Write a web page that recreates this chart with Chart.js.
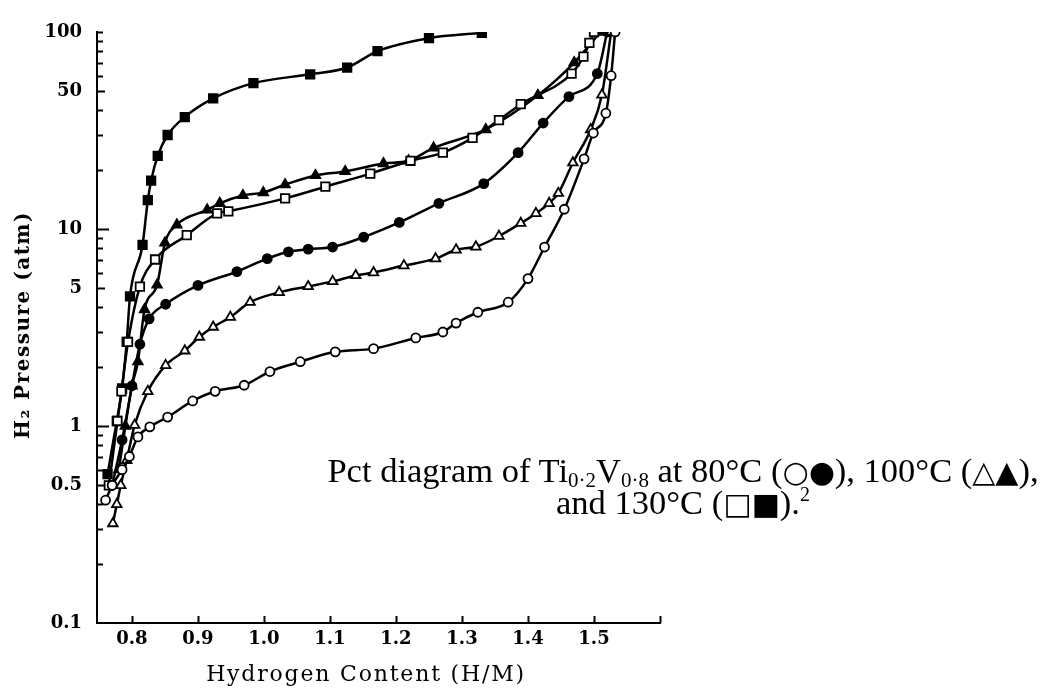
<!DOCTYPE html>
<html>
<head>
<meta charset="utf-8">
<script src="https://cdn.jsdelivr.net/npm/chart.js@4.4.0/dist/chart.umd.min.js"></script>
<style>
  html, body { margin: 0; padding: 0; background: #fff; }
  #wrap { position: relative; width: 1051px; height: 693px; }
  #caption {
    position: absolute; left: 318px; top: 455px; width: 730px;
    font-family: "Liberation Serif", serif; font-size: 34.5px; line-height: 30px;
    color: #000; text-align: center; white-space: nowrap;
  }
  #caption sub { font-size: 21px; vertical-align: -5px; line-height: 0; }
  #caption sup { font-size: 20px; vertical-align: 13px; line-height: 0; }
  #caption .sym { font-family: "DejaVu Sans", sans-serif; font-size: 30px; }
</style>
</head>
<body>
<div id="wrap">
  <canvas id="chart" width="1051" height="693"></canvas>
  <div id="caption">Pct diagram of Ti<sub>0·2</sub>V<sub>0·8</sub> at 80°C (<span class="sym">○●</span>), 100°C (<span class="sym">△▲</span>),<br>and 130°C (<span class="sym">□■</span>).<sup>2</sup></div>
</div>
<script>
// 80°C  (open circles = desorption, filled = absorption)
const h80Open   = [0.760, 0.770, 0.785, 0.796, 0.809, 0.827, 0.854, 0.892, 0.926, 0.970, 1.009, 1.055, 1.108, 1.166, 1.230, 1.271, 1.291, 1.324, 1.370, 1.400, 1.425, 1.455, 1.485, 1.499, 1.518, 1.526, 1.532];
const p80Open   = [0.42, 0.50, 0.60, 0.70, 0.88, 0.99, 1.11, 1.34, 1.50, 1.61, 1.89, 2.12, 2.38, 2.47, 2.80, 3.00, 3.33, 3.78, 4.25, 5.6, 8.1, 12.6, 22.7, 30.7, 38.7, 60, 100];
const h80Filled = [0.770, 0.785, 0.800, 0.812, 0.826, 0.851, 0.900, 0.959, 1.005, 1.037, 1.067, 1.104, 1.151, 1.205, 1.265, 1.333, 1.385, 1.423, 1.462, 1.505, 1.520];
const p80Filled = [0.50, 0.85, 1.6, 2.6, 3.5, 4.15, 5.17, 6.08, 7.07, 7.66, 7.9, 8.1, 9.1, 10.8, 13.5, 17.0, 24.4, 34.5, 47, 61.5, 100];

// 100°C
const h100Open   = [0.771, 0.777, 0.783, 0.792, 0.804, 0.824, 0.851, 0.880, 0.902, 0.923, 0.949, 0.979, 1.023, 1.067, 1.104, 1.139, 1.166, 1.212, 1.260, 1.291, 1.321, 1.356, 1.389, 1.412, 1.432, 1.446, 1.468, 1.495, 1.512, 1.526];
const p100Open   = [0.32, 0.40, 0.50, 0.67, 1.01, 1.50, 2.03, 2.41, 2.83, 3.18, 3.57, 4.25, 4.77, 5.11, 5.42, 5.81, 6.01, 6.52, 7.07, 7.84, 8.12, 9.2, 10.7, 12.0, 13.5, 15.2, 21.7, 32, 48, 100];
const h100Filled = [0.780, 0.790, 0.800, 0.809, 0.819, 0.838, 0.850, 0.868, 0.914, 0.933, 0.968, 0.999, 1.032, 1.078, 1.123, 1.181, 1.219, 1.257, 1.336, 1.415, 1.470, 1.510];
const p100Filled = [0.60, 1.0, 1.6, 2.12, 3.9, 5.2, 8.5, 10.5, 12.5, 13.5, 14.8, 15.3, 16.8, 18.7, 19.6, 21.5, 22.2, 25.8, 32, 47.7, 70, 100];

// 130°C
const h130Open   = [0.765, 0.778, 0.784, 0.794, 0.812, 0.835, 0.883, 0.929, 0.946, 1.032, 1.093, 1.161, 1.222, 1.271, 1.316, 1.356, 1.389, 1.466, 1.484, 1.493, 1.500];
const p130Open   = [0.50, 1.06, 1.50, 2.67, 5.1, 7.0, 9.3, 12.0, 12.3, 14.3, 16.4, 19.1, 22.2, 24.4, 29, 35.7, 43, 61.5, 75, 88, 100];
const h130Filled = [0.763, 0.777, 0.785, 0.792, 0.797, 0.816, 0.824, 0.829, 0.839, 0.854, 0.880, 0.923, 0.984, 1.070, 1.126, 1.172, 1.250, 1.330];
const p130Filled = [0.57, 1.06, 1.55, 2.67, 4.55, 8.3, 14, 17.6, 23.5, 30, 37, 46, 55, 61, 66, 80, 93, 99];

// axes
const xTickValues = [0.8, 0.9, 1.0, 1.1, 1.2, 1.3, 1.4, 1.5];
const xEndTick = 1.6;
const yLabelValues = [0.1, 0.5, 1, 5, 10, 50, 100];
const yMinorValues = [0.2, 0.3, 0.4, 0.5, 0.6, 0.7, 0.8, 0.9, 2, 3, 4, 5, 6, 7, 8, 9, 20, 30, 40, 50, 60, 70, 80, 90, 100];
const yMajorValues = [1, 10];

const toPoints = (hs, ps) => hs.map((h, i) => ({ x: h, y: ps[i] }));

function series(hs, ps, style, filled, radius) {
  return {
    data: toPoints(hs, ps),
    borderColor: '#000',
    borderWidth: 2.5,
    pointStyle: style,
    pointRadius: radius,
    pointBorderWidth: 1.8,
    pointBorderColor: '#000',
    pointBackgroundColor: filled ? '#000' : '#fff',
    cubicInterpolationMode: 'monotone',
    fill: false
  };
}

// inward tick marks and axis titles
const axisExtras = {
  id: 'axisExtras',
  afterDraw(chart) {
    const { ctx, scales: { x, y } } = chart;
    ctx.save();
    ctx.strokeStyle = '#000';
    ctx.lineWidth = 2;
    ctx.beginPath();
    yMinorValues.concat(yMajorValues).forEach(v => {
      const py = Math.round(y.getPixelForValue(v)) + 0.5;
      const len = yMajorValues.includes(v) ? 12 : (v === 5 || v === 50 || v === 0.5 ? 8 : 6);
      ctx.moveTo(x.left, py);
      ctx.lineTo(x.left + len, py);
    });
    xTickValues.concat([xEndTick]).forEach(v => {
      const px = Math.round(x.getPixelForValue(v)) + 0.5;
      ctx.moveTo(px, y.bottom);
      ctx.lineTo(px, y.bottom - 7);
    });
    ctx.stroke();

    ctx.fillStyle = '#000';
    ctx.font = '22px "DejaVu Serif"';
    ctx.letterSpacing = '1.8px';
    ctx.textAlign = 'center';
    ctx.textBaseline = 'alphabetic';
    ctx.fillText('Hydrogen Content (H/M)', 366, 681);

    ctx.translate(29, 325);
    ctx.rotate(-Math.PI / 2);
    ctx.font = 'bold 20px "DejaVu Serif"';
    ctx.letterSpacing = '1.5px';
    ctx.fillText('H\u2082 Pressure (atm)', 0, 0);
    ctx.restore();
  }
};

const tickFont = { family: 'DejaVu Serif', size: 18, weight: 'bold' };

new Chart(document.getElementById('chart'), {
  type: 'line',
  data: {
    datasets: [
      series(h80Open, p80Open, 'circle', false, 4.5),
      series(h100Open, p100Open, 'triangle', false, 5.5),
      series(h80Filled, p80Filled, 'circle', true, 4.5),
      series(h130Open, p130Open, 'rect', false, 6),
      series(h100Filled, p100Filled, 'triangle', true, 5.5),
      series(h130Filled, p130Filled, 'rect', true, 6)
    ]
  },
  options: {
    responsive: false,
    devicePixelRatio: 1,
    animation: false,
    layout: { padding: { top: 32, right: 391, left: 0, bottom: 0 } },
    plugins: { legend: { display: false }, tooltip: { enabled: false } },
    scales: {
      x: {
        type: 'linear',
        min: 0.747,
        max: 1.6,
        afterFit: s => { s.height = 70; },
        afterBuildTicks: s => { s.ticks = xTickValues.map(v => ({ value: v })); },
        grid: { display: true, drawOnChartArea: false, drawTicks: false },
        border: { display: true, color: '#000', width: 2 },
        ticks: {
          padding: 6, color: '#000', font: tickFont, maxRotation: 0, autoSkip: false,
          callback: v => v.toFixed(1)
        }
      },
      y: {
        type: 'logarithmic',
        min: 0.1,
        max: 100,
        afterFit: s => { s.width = 97; },
        afterBuildTicks: s => { s.ticks = yLabelValues.map(v => ({ value: v })); },
        grid: { display: true, drawOnChartArea: false, drawTicks: false },
        border: { display: true, color: '#000', width: 2 },
        ticks: {
          padding: 15, color: '#000', font: tickFont, autoSkip: false,
          callback: v => String(v)
        }
      }
    }
  },
  plugins: [axisExtras]
});
</script>
</body>
</html>
